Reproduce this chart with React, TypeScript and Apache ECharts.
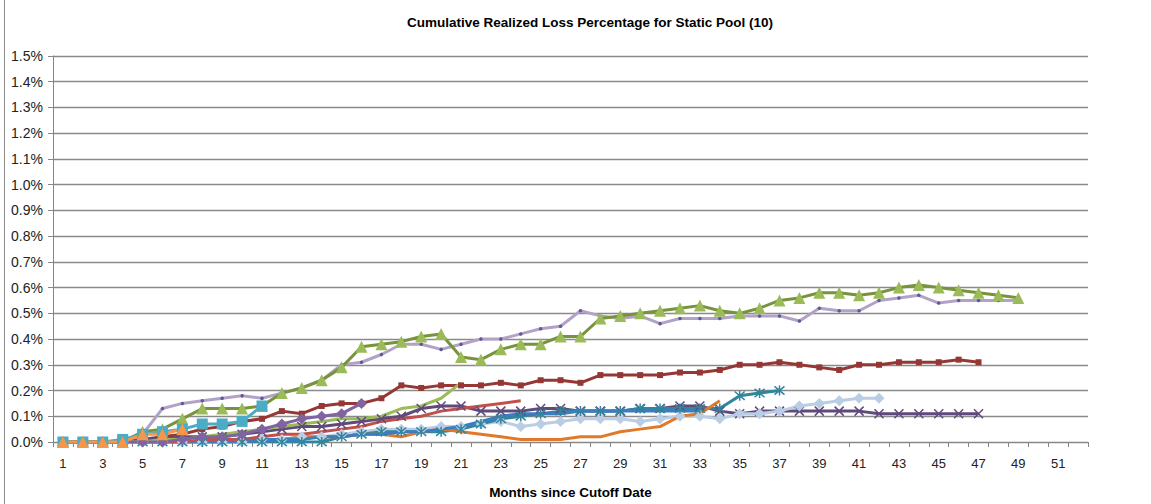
import React, { useEffect, useRef } from "react";
import * as echarts from "echarts";

const months = [
  "1", "2", "3", "4", "5", "6", "7", "8", "9", "10", "11", "12", "13",
  "14", "15", "16", "17", "18", "19", "20", "21", "22", "23", "24", "25", "26",
  "27", "28", "29", "30", "31", "32", "33", "34", "35", "36", "37", "38", "39",
  "40", "41", "42", "43", "44", "45", "46", "47", "48", "49", "50", "51", "52",
];

const lavender = [
  0, 0, 0, 0, 0.03, 0.13, 0.15, 0.16, 0.17, 0.18, 0.17, 0.19, 0.21, 0.24, 0.3,
  0.31, 0.34, 0.38, 0.38, 0.36, 0.38, 0.4, 0.4, 0.42, 0.44, 0.45, 0.51, 0.49,
  0.48, 0.49, 0.46, 0.48, 0.48, 0.48, 0.49, 0.49, 0.49, 0.47, 0.52, 0.51, 0.51,
  0.55, 0.56, 0.57, 0.54, 0.55, 0.55, 0.55, 0.55,
];
const olive = [
  0, 0, 0, 0, 0.04, 0.05, 0.09, 0.13, 0.13, 0.13, 0.14, 0.19, 0.21, 0.24, 0.29,
  0.37, 0.38, 0.39, 0.41, 0.42, 0.33, 0.32, 0.36, 0.38, 0.38, 0.41, 0.41, 0.48,
  0.49, 0.5, 0.51, 0.52, 0.53, 0.51, 0.5, 0.52, 0.55, 0.56, 0.58, 0.58, 0.57,
  0.58, 0.6, 0.61, 0.6, 0.59, 0.58, 0.57, 0.56,
];
const darkRed = [
  0, 0, 0, 0, 0.01, 0.02, 0.03, 0.05, 0.06, 0.08, 0.09, 0.12, 0.11, 0.14, 0.15,
  0.15, 0.17, 0.22, 0.21, 0.22, 0.22, 0.22, 0.23, 0.22, 0.24, 0.24, 0.23, 0.26,
  0.26, 0.26, 0.26, 0.27, 0.27, 0.28, 0.3, 0.3, 0.31, 0.3, 0.29, 0.28, 0.3, 0.3,
  0.31, 0.31, 0.31, 0.32, 0.31,
];
const darkPurple = [
  0, 0, 0, 0, 0.01, 0.01, 0.02, 0.02, 0.02, 0.03, 0.04, 0.05, 0.06, 0.06, 0.07,
  0.08, 0.09, 0.1, 0.13, 0.14, 0.14, 0.12, 0.12, 0.12, 0.13, 0.13, 0.12, 0.12,
  0.12, 0.13, 0.13, 0.14, 0.14, 0.12, 0.11, 0.12, 0.12, 0.12, 0.12, 0.12, 0.12,
  0.11, 0.11, 0.11, 0.11, 0.11, 0.11,
];
const lightBlue = [
  0, 0, 0, 0, 0, 0, 0, 0, 0, 0, 0.01, 0.01, 0.02, 0.02, 0.03, 0.04, 0.05, 0.05,
  0.05, 0.06, 0.06, 0.07, 0.08, 0.06, 0.07, 0.08, 0.09, 0.09, 0.09, 0.08, 0.09,
  0.1, 0.1, 0.09, 0.11, 0.11, 0.12, 0.14, 0.15, 0.16, 0.17, 0.17,
];
const teal = [
  0, 0, 0, 0, 0, 0, 0, 0, 0, 0, 0, 0, 0, 0, 0.02, 0.03, 0.04, 0.04, 0.04, 0.04,
  0.05, 0.07, 0.09, 0.1, 0.11, 0.12, 0.12, 0.12, 0.12, 0.13, 0.13, 0.13, 0.13,
  0.13, 0.18, 0.19, 0.2,
];
const orangeLine = [
  0, 0, 0, 0, 0, 0, 0, 0, 0, 0.01, 0.01, 0.01, 0.02, 0.02, 0.02, 0.03, 0.03,
  0.02, 0.04, 0.05, 0.04, 0.03, 0.02, 0.01, 0.01, 0.01, 0.02, 0.02, 0.04, 0.05,
  0.06, 0.1, 0.11, 0.16,
];
const blueLine = [
  0, 0, 0, 0, 0, 0, 0, 0, 0, 0, 0.01, 0.01, 0.01, 0.02, 0.02, 0.03, 0.03, 0.04,
  0.04, 0.05, 0.06, 0.08, 0.1, 0.11, 0.11, 0.11, 0.12, 0.12, 0.12, 0.12, 0.12,
  0.12, 0.12,
];
const redLine = [
  0, 0, 0, 0, 0, 0, 0, 0.01, 0.01, 0.01, 0.02, 0.03, 0.03, 0.04, 0.05, 0.06,
  0.08, 0.09, 0.1, 0.12, 0.13, 0.14, 0.15, 0.16,
];
const lightGreen = [
  0, 0, 0, 0, 0, 0.01, 0.01, 0.02, 0.03, 0.04, 0.05, 0.06, 0.07, 0.08, 0.09,
  0.09, 0.1, 0.13, 0.14, 0.17, 0.23,
];
const purpleDiamond = [
  0, 0, 0, 0, 0, 0, 0.01, 0.02, 0.02, 0.03, 0.05, 0.07, 0.09, 0.1, 0.11, 0.15,
];
const aquaSquare = [0, 0, 0, 0.01, 0.03, 0.04, 0.05, 0.07, 0.07, 0.08, 0.14];
const orangeTriangle = [0, 0, 0, 0, 0.03, 0.03, 0.05];

const X_SYMBOL = "path://M0,0L10,10M10,0L0,10";
const STAR_SYMBOL = "path://M0,0L10,10M10,0L0,10M5,-1L5,11";

const FONT = "'Liberation Sans', Arial, sans-serif";

function mk(
  name: string,
  data: number[],
  color: string,
  symbol: string,
  symbolSize: number,
  markerColor?: string,
  stroke?: boolean
) {
  return {
    name,
    type: "line",
    data,
    symbol,
    symbolSize,
    showSymbol: symbol !== "none",
    lineStyle: { color, width: 3 },
    itemStyle: stroke
      ? { color: "rgba(0,0,0,0)", borderColor: markerColor || color, borderWidth: 1.5 }
      : { color: markerColor || color, borderWidth: 0 },
    emphasis: { disabled: true },
  };
}

export default function App() {
  const ref = useRef<HTMLDivElement>(null);
  useEffect(() => {
    if (!ref.current) return;
    const chart = echarts.init(ref.current, undefined, { renderer: "svg" });
    chart.setOption({
      animation: false,
      backgroundColor: "#ffffff",
      title: {
        text: "Cumulative Realized Loss Percentage for Static Pool (10)",
        left: 585,
        textAlign: "center",
        top: 10,
        textStyle: { fontFamily: FONT, fontSize: 13.5, fontWeight: "bold", color: "#000" },
      },
      grid: { left: 53, right: 63, top: 56, bottom: 57 },
      xAxis: {
        type: "category",
        data: months,
        boundaryGap: true,
        name: "Months since Cutoff Date",
        nameLocation: "middle",
        nameGap: 43,
        nameTextStyle: { fontFamily: FONT, fontSize: 13.5, fontWeight: "bold", color: "#000" },
        axisLine: { lineStyle: { color: "#868686", width: 1 } },
        axisTick: { show: true, interval: 0, length: 5, lineStyle: { color: "#868686" } },
        axisLabel: { interval: 1, margin: 15, fontFamily: FONT, fontSize: 13, color: "#222" },
        splitLine: { show: false },
      },
      yAxis: {
        type: "value",
        min: 0,
        max: 1.5,
        interval: 0.1,
        axisLine: { show: true, lineStyle: { color: "#868686", width: 1 } },
        axisTick: { show: true, length: 5, lineStyle: { color: "#868686" } },
        axisLabel: {
          margin: 10,
          fontFamily: FONT,
          fontSize: 14,
          color: "#222",
          formatter: (v: number) => v.toFixed(1) + "%",
        },
        splitLine: { lineStyle: { color: "#8a8a8a", width: 1.3 } },
      },
      graphic: [
        {
          type: "line",
          shape: { x1: 4.5, y1: 0, x2: 4.5, y2: 504 },
          style: { stroke: "#8c8c8c", lineWidth: 1 },
        },
      ],
      series: [
        mk("Lavender", lavender, "#B3A2C7", "circle", 3.5, "#5E5A9A"),
        mk("Olive", olive, "#77933C", "triangle", 12, "#9BBB59"),
        mk("Dark red", darkRed, "#953735", "rect", 6),
        mk("Dark purple", darkPurple, "#604A7B", X_SYMBOL, 9, "#604A7B", true),
        mk("Light blue", lightBlue, "#B9CDE5", "diamond", 11),
        mk("Teal", teal, "#31859C", STAR_SYMBOL, 10, "#31859C", true),
        mk("Orange", orangeLine, "#E07A2A", "none", 0),
        mk("Blue", blueLine, "#3A7DC3", "none", 0),
        mk("Red", redLine, "#C0504D", "none", 0),
        mk("Light green", lightGreen, "#9BBB59", "none", 0),
        mk("Purple", purpleDiamond, "#8064A2", "diamond", 11),
        mk("Aqua", aquaSquare, "#4BACC6", "rect", 11),
        mk("Orange tri", orangeTriangle, "#F79646", "triangle", 12),
      ],
    });
    return () => chart.dispose();
  }, []);
  return (
    <div
      ref={ref}
      style={{ position: "fixed", left: 0, top: 0, width: 1151, height: 504 }}
    />
  );
}
